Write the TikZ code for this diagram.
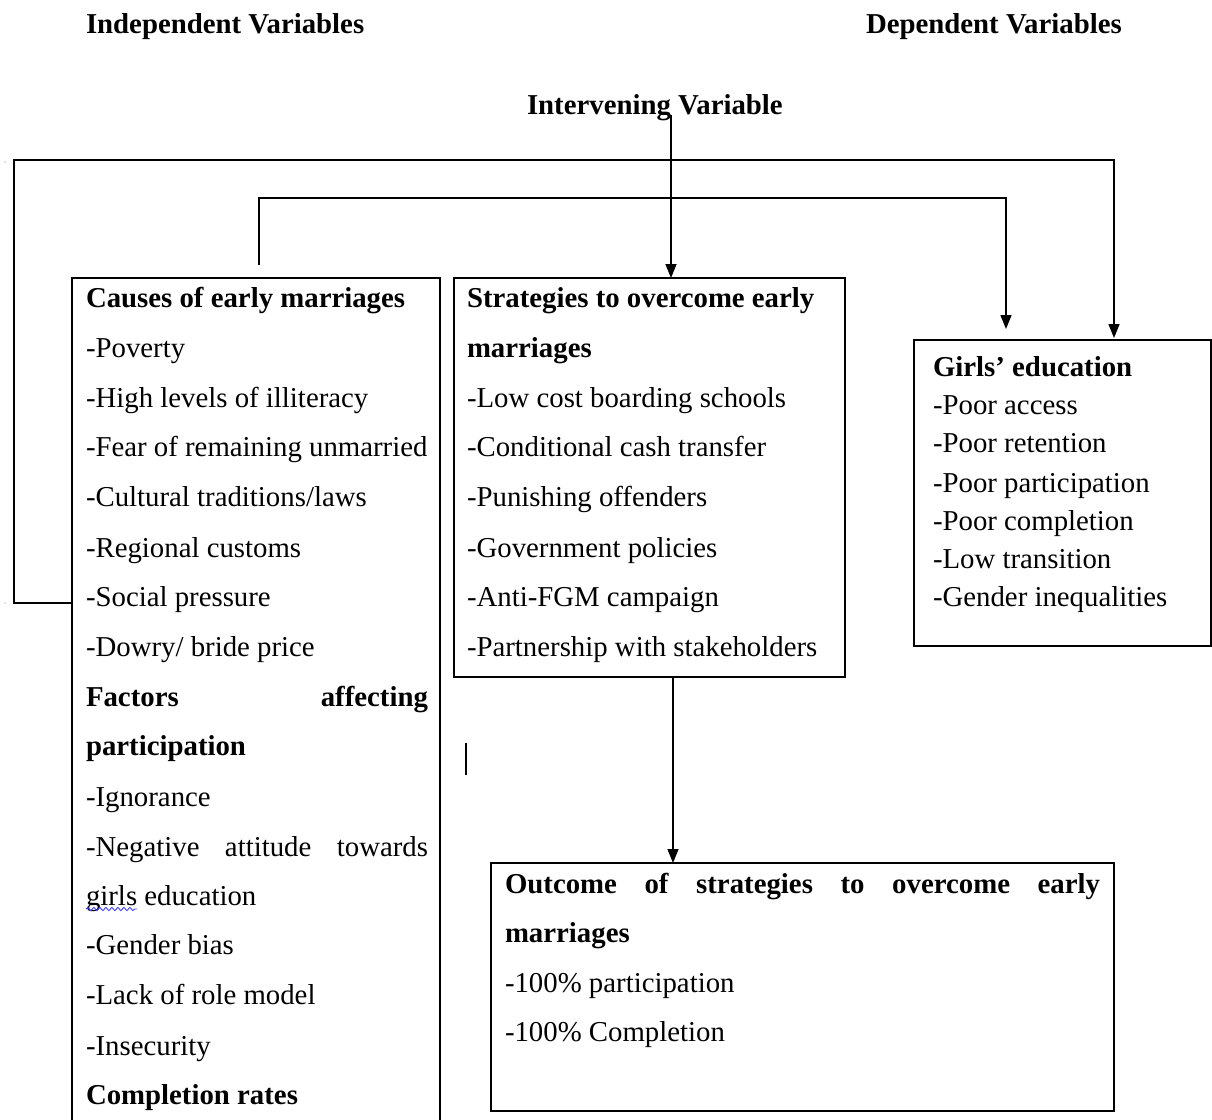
\documentclass[tikz,border=0pt]{standalone}
\usepackage{fontspec}
\setmainfont{Liberation Serif}
\usetikzlibrary{arrows.meta,decorations.pathmorphing,fit}
\begin{document}
\begin{tikzpicture}[x=0.5pt,y=-0.5pt,
  every node/.style={inner sep=0pt, outer sep=0pt, font=\fontsize{14.4}{17}\selectfont},
  txt/.style={anchor=base west},
  hd/.style={anchor=base west, font=\fontsize{14.4}{17}\selectfont\bfseries},
  frame/.style={draw, line width=0.75pt},
  conn/.style={line width=0.75pt},
  arr/.style={conn, -{Triangle[length=7pt,width=5.5pt]}}
]
\useasboundingbox (0,0) rectangle (1212,1120);

% titles
\node[hd] (indep) at (86,33) {Independent Variables};
\node[hd] (dep) at (866,33) {Dependent Variables};
\node[hd] (interv) at (527,114) {Intervening Variable};
\coordinate (ivs) at (671,115);

% boxes
\coordinate (cTL) at (72,278);
\coordinate (cTR) at (440,278);
\draw[frame] (72,1120) -- (cTL) -- (cTR) -- (440,1120);
\node[frame, fit={(454,278) (845,677)}] (strat) {};
\node[frame, fit={(914,340) (1211,646)}] (girls) {};
\node[frame, fit={(491,863) (1114,1111)}] (outc) {};

% causes box text
\node[hd]  (c1)  at (86,307) {Causes of early marriages};
\node[txt] (c2)  at (86,357) {-Poverty};
\node[txt] (c3)  at (86,407) {-High levels of illiteracy};
\node[txt] (c4)  at (86,456) {-Fear of remaining unmarried};
\node[txt] (c5)  at (86,506) {-Cultural traditions/laws};
\node[txt] (c6)  at (86,557) {-Regional customs};
\node[txt] (c7)  at (86,606) {-Social pressure};
\node[txt] (c8)  at (86,656) {-Dowry/ bride price};
\node[hd]  (c9)  at (86,706) {\makebox[171pt][s]{Factors affecting}};
\node[hd]  (c10) at (86,755) {participation};
\node[txt] (c11) at (86,806) {-Ignorance};
\node[txt] (c12) at (86,856) {\makebox[171pt][s]{-Negative attitude towards}};
\node[txt] (c13) at (86,905) {girls education};
\node[txt] (c14) at (86,954) {-Gender bias};
\node[txt] (c15) at (86,1004) {-Lack of role model};
\node[txt] (c16) at (86,1055) {-Insecurity};
\node[hd]  (c17) at (86,1104) {Completion rates};
\draw[blue!75, line width=0.45pt, decorate,
      decoration={snake, amplitude=0.8pt, segment length=3pt}]
      (86,909) -- (137,909);

% strategies text
\node[hd]  (s1) at (467,307) {Strategies to overcome early};
\node[hd]  (s2) at (467,357) {marriages};
\node[txt] (s3) at (467,407) {-Low cost boarding schools};
\node[txt] (s4) at (467,456) {-Conditional cash transfer};
\node[txt] (s5) at (467,506) {-Punishing offenders};
\node[txt] (s6) at (467,557) {-Government policies};
\node[txt] (s7) at (467,606) {-Anti-FGM campaign};
\node[txt] (s8) at (467,656) {-Partnership with stakeholders};

% girls text
\node[hd]  (g1) at (933,376) {Girls’ education};
\node[txt] (g2) at (933,414) {-Poor access};
\node[txt] (g3) at (933,452) {-Poor retention};
\node[txt] (g4) at (933,492) {-Poor participation};
\node[txt] (g5) at (933,530) {-Poor completion};
\node[txt] (g6) at (933,568) {-Low transition};
\node[txt] (g7) at (933,606) {-Gender inequalities};

% outcome text
\node[hd]  (o1) at (505,893) {\makebox[297.5pt][s]{Outcome of strategies to overcome early}};
\node[hd]  (o2) at (505,942) {marriages};
\node[txt] (o3) at (505,992) {-100\% participation};
\node[txt] (o4) at (505,1041) {-100\% Completion};

% connectors
\coordinate (cw) at (72,603);
\draw[arr] (cw) -- (14,603) -- (14,160) -- (1114,160) -- (1114,338);
\coordinate (ct) at (259,265);
\draw[arr] (ct) -- (259,198) -- (1006,198) -- (1006,329);
\draw[arr] (ivs) -- (ivs |- strat.north);
\coordinate (sb) at (673,677);
\draw[arr] (sb) -- (sb |- outc.north);

% stray marks
\draw[line width=0.6pt] (466,743) -- (466,775);
\fill[gray] (5,162) circle (0.6);
\fill[gray] (5,603) circle (0.6);
\end{tikzpicture}
\end{document}
